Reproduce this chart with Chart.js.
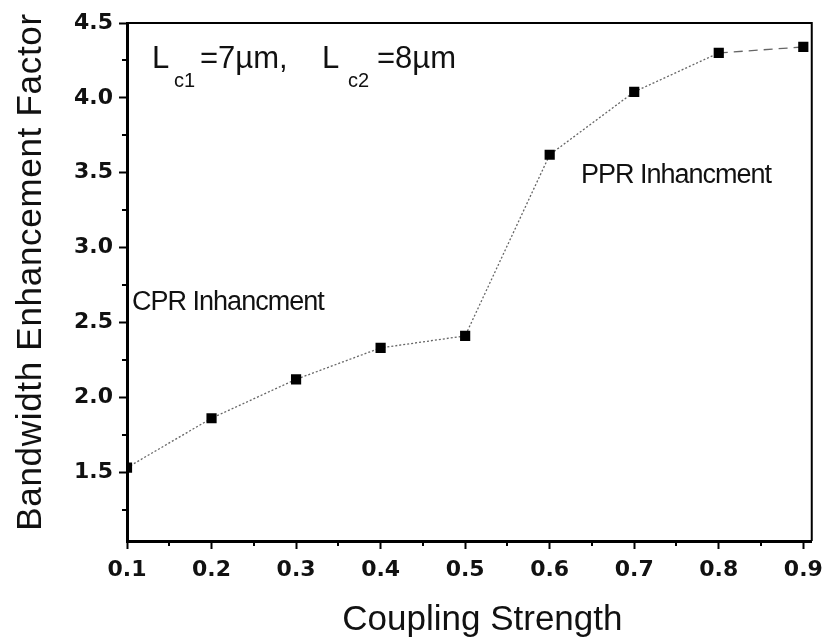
<!DOCTYPE html>
<html>
<head>
<meta charset="utf-8">
<script src="https://cdn.jsdelivr.net/npm/chart.js@4/dist/chart.umd.min.js"></script>
<style>
  html, body { margin: 0; padding: 0; background: #fff; }
  #c { display: block; }
</style>
</head>
<body>
<canvas id="c" width="831" height="643"></canvas>
<script>
// Measured bandwidth enhancement vs. coupling strength
const couplingStrength  = [0.1, 0.2, 0.3, 0.4, 0.5, 0.6, 0.7, 0.8, 0.9];
const enhancementFactor = [1.53, 1.86, 2.12, 2.33, 2.41, 3.62, 4.04, 4.30, 4.34];

// Axis ticks
const xTickValues  = [0.1, 0.2, 0.3, 0.4, 0.5, 0.6, 0.7, 0.8, 0.9];
const xMinorValues = [0.15, 0.25, 0.35, 0.45, 0.55, 0.65, 0.75, 0.85];
const yTickValues  = [1.5, 2.0, 2.5, 3.0, 3.5, 4.0, 4.5];
const yMinorValues = [1.25, 1.75, 2.25, 2.75, 3.25, 3.75, 4.25];

// Axis titles and in-plot notes
const xTitle = 'Coupling Strength';
const yTitle = 'Bandwidth Enhancement Factor';
const regionNotes = [
  { text: 'CPR Inhancment', x: 0.106, y: 2.58 },
  { text: 'PPR Inhancment', x: 0.637, y: 3.43 }
];
// Cavity lengths note: text pieces (main or subscript) with horizontal offsets in px
const lengthNote = {
  x: 0.1295, y: 4.20,
  pieces: [
    { t: 'L', sub: false, dx: 0 },
    { t: 'c1', sub: true, dx: 22 },
    { t: '=7\u00b5m,', sub: false, dx: 48 },
    { t: 'L', sub: false, dx: 170 },
    { t: 'c2', sub: true, dx: 196 },
    { t: '=8\u00b5m', sub: false, dx: 225 }
  ]
};

const TEXT_FONT = '"Liberation Sans", Arial, sans-serif';

const decorations = {
  id: 'decorations',
  afterDraw(chart) {
    const { ctx, chartArea: a, scales: { x, y } } = chart;
    ctx.save();
    // frame top and right
    ctx.strokeStyle = '#000';
    ctx.lineWidth = 2;
    ctx.beginPath();
    ctx.moveTo(a.left, a.top);
    ctx.lineTo(a.right, a.top);
    ctx.lineTo(a.right, a.bottom);
    ctx.stroke();

    // minor ticks
    ctx.beginPath();
    xMinorValues.forEach(v => {
      const px = Math.round(x.getPixelForValue(v));
      ctx.moveTo(px, a.bottom);
      ctx.lineTo(px, a.bottom + 5);
    });
    yMinorValues.forEach(v => {
      const py = Math.round(y.getPixelForValue(v));
      ctx.moveTo(a.left, py);
      ctx.lineTo(a.left - 5, py);
    });
    ctx.stroke();

    ctx.fillStyle = '#111';
    ctx.textBaseline = 'alphabetic';
    ctx.textAlign = 'left';

    // region notes
    ctx.font = '27px ' + TEXT_FONT;
    ctx.letterSpacing = '-1px';
    regionNotes.forEach(n => {
      ctx.fillText(n.text, x.getPixelForValue(n.x), y.getPixelForValue(n.y));
    });

    // cavity length note
    const lx = x.getPixelForValue(lengthNote.x);
    const ly = y.getPixelForValue(lengthNote.y);
    ctx.letterSpacing = '0px';
    lengthNote.pieces.forEach(p => {
      ctx.font = (p.sub ? '20px ' : '31px ') + TEXT_FONT;
      ctx.fillText(p.t, lx + p.dx, ly + (p.sub ? 19 : 0));
    });

    // axis titles
    ctx.font = '35px ' + TEXT_FONT;
    ctx.textAlign = 'center';
    ctx.fillText(xTitle, (a.left + a.right) / 2 + 13, 630);

    ctx.translate(41, 272);
    ctx.rotate(-Math.PI / 2);
    ctx.letterSpacing = '0.7px';
    ctx.fillText(yTitle, 0, 0);
    ctx.restore();
  }
};

const tickFont = { family: '"DejaVu Sans", sans-serif', size: 22, weight: 'bold' };

new Chart(document.getElementById('c'), {
  type: 'line',
  data: {
    datasets: [{
      data: couplingStrength.map((v, i) => ({ x: v, y: enhancementFactor[i] })),
      borderColor: '#666',
      borderWidth: 1.3,
      borderDash: [2, 2],
      segment: {
        borderDash: ctx => (ctx.p0DataIndex === 7 ? [9, 6] : [2, 2])
      },
      pointStyle: 'rect',
      pointRadius: 7.2,
      pointBackgroundColor: '#000',
      pointBorderColor: '#000',
      pointBorderWidth: 0,
      tension: 0,
      fill: false
    }]
  },
  options: {
    responsive: false,
    devicePixelRatio: 1,
    animation: false,
    events: [],
    layout: { padding: { top: 23, right: 17, left: 0, bottom: 0 } },
    plugins: {
      legend: { display: false },
      tooltip: { enabled: false }
    },
    scales: {
      x: {
        type: 'linear',
        min: 0.1,
        max: 0.91,
        afterBuildTicks: s => { s.ticks = xTickValues.map(v => ({ value: v })); },
        afterFit: s => { s.height = 102; },
        ticks: {
          callback: v => v.toFixed(1),
          font: tickFont,
          color: '#111',
          padding: 8,
          maxRotation: 0,
          autoSkip: false
        },
        grid: { drawOnChartArea: false, tickLength: 8, tickWidth: 2, tickColor: '#000' },
        border: { color: '#000', width: 3 }
      },
      y: {
        type: 'linear',
        min: 1.04,
        max: 4.5,
        afterBuildTicks: s => { s.ticks = yTickValues.map(v => ({ value: v })); },
        afterFit: s => { s.width = 127; },
        ticks: {
          callback: v => v.toFixed(1),
          font: tickFont,
          color: '#111',
          padding: 6,
          autoSkip: false
        },
        grid: { drawOnChartArea: false, tickLength: 8, tickWidth: 2, tickColor: '#000' },
        border: { color: '#000', width: 3 }
      }
    }
  },
  plugins: [decorations]
});
</script>
</body>
</html>
